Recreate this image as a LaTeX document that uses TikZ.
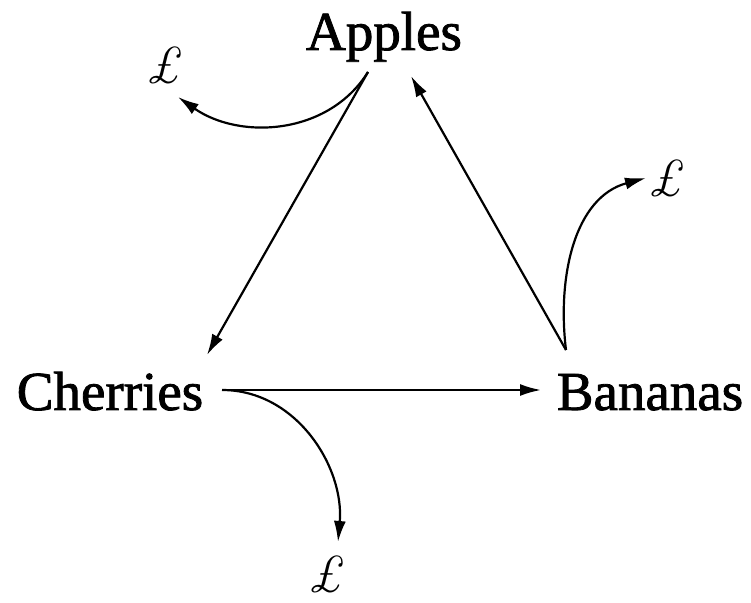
\documentclass[tikz,border=0pt]{standalone}
\usepackage{fontspec}
\newfontfamily\namefont[FakeBold=1.5]{Liberation Serif}
\usetikzlibrary{arrows.meta}
\begin{document}
\begin{tikzpicture}[x=1pt,y=1pt,
  lbl/.style={font=\namefont\fontsize{55}{60}\selectfont, anchor=base, inner sep=0pt},
  pnd/.style={font=\fontsize{52}{60}\selectfont\itshape, inner sep=0pt},
  arr/.style={line width=2.2pt, -{Latex[length=21pt,width=12pt]}}]
\useasboundingbox (0,0) rectangle (751,602);
\node[lbl] (apples) at (384,552) {Apples};
\node[lbl] (cherries) at (110,192) {Cherries};
\node[lbl] (bananas) at (650,192) {Bananas};
\node[pnd] (p1) at (165,537) {£};
\node[pnd] (p2) at (667,424) {£};
\node[pnd] (p3) at (327,28) {£};
\coordinate (aout) at ([shift={(-16,-22)}]apples.base);
\coordinate (ain) at ([shift={(27,-26)}]apples.base);
\coordinate (cout) at ([shift={(112,20)}]cherries.base);
\coordinate (bout) at ([shift={(-84,60)}]bananas.base);
\draw[arr] (aout) -- ([shift={(97,55)}]cherries.base);
\draw[arr] (bout) -- (ain);
\draw[arr] (cout) -- ([shift={(-109,20)}]bananas.base);
\draw[arr] (aout) to[out=238,in=-35] ([shift={(13,-32)}]p1.center);
\draw[arr] (bout) to[out=97,in=195] ([shift={(-21,0)}]p2.center);
\draw[arr] (cout) to[out=0,in=85] ([shift={(11,32)}]p3.center);
\end{tikzpicture}
\end{document}
